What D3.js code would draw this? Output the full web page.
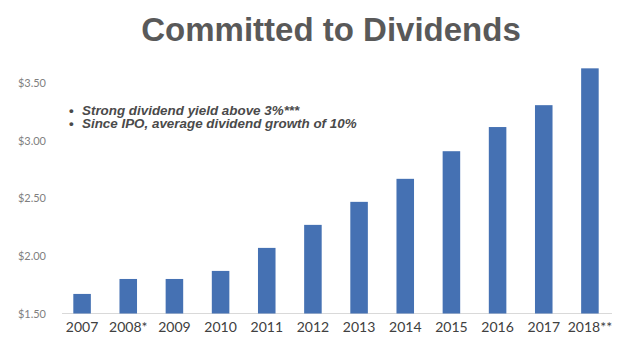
<!DOCTYPE html>
<html><head><meta charset="utf-8">
<script src="https://cdn.jsdelivr.net/npm/d3@7"></script>
<style>html,body{margin:0;padding:0;background:#fff;}</style>
</head><body>
<script>
const categories = ["2007","2008*","2009","2010","2011","2012","2013","2014","2015","2016","2017","2018**"];
const dividends = [1.67,1.80,1.80,1.87,2.07,2.27,2.47,2.67,2.91,3.12,3.31,3.63];
const yTicks = [1.5,2.0,2.5,3.0,3.5];
const titleText = "Committed to Dividends";
const bullets = ["Strong dividend yield above 3%***","Since IPO, average dividend growth of 10%"];

const W=640,H=345;
const svg=d3.select("body").append("svg").attr("width",W).attr("height",H);
svg.append("rect").attr("width",W).attr("height",H).attr("fill","#fff");

const x=d3.scaleBand().domain(categories).range([59,613]).paddingInner(0.62).paddingOuter(0.31);
const y=d3.scaleLinear().domain([1.5,3.5]).range([313.5,83.3]);

svg.append("text").attr("x",331).attr("y",41).attr("text-anchor","middle")
  .attr("font-family","Liberation Sans, Arial, sans-serif").attr("font-weight","bold")
  .attr("font-size",33).attr("fill","#595959").text(titleText);

// y axis labels
const yAxis=d3.axisLeft(y).tickValues(yTicks).tickSize(0).tickPadding(0).tickFormat(d=>"$"+d3.format(".2f")(d));
const ga=svg.append("g").attr("transform","translate(46,0)").call(yAxis);
ga.select(".domain").remove();
ga.selectAll("text").attr("font-family","Lato, Open Sans, sans-serif").attr("font-size",11).attr("fill","#7f7f7f");

// baseline
svg.append("line").attr("x1",62).attr("x2",612).attr("y1",y(1.5)).attr("y2",y(1.5)).attr("stroke","#d9d9d9").attr("stroke-width",1);

svg.selectAll("rect.bar").data(categories).enter().append("rect").attr("class","bar")
  .attr("x",d=>x(d)).attr("width",x.bandwidth())
  .attr("y",(d,i)=>y(dividends[i])).attr("height",(d,i)=>y(1.5)-y(dividends[i]))
  .attr("fill","#4571b3");

const xAxis=d3.axisBottom(x).tickSize(0).tickPadding(9);
const gx=svg.append("g").attr("transform",`translate(0,${y(1.5)})`).call(xAxis);
gx.select(".domain").remove();
gx.selectAll("text").attr("font-family","Lato, Open Sans, sans-serif").attr("font-size",14).attr("fill","#404040");

const bg=svg.append("g");
bullets.forEach((b,i)=>{
  bg.append("text").attr("x",69).attr("y",114.5+i*13.5).attr("font-family","Liberation Sans, Arial, sans-serif")
    .attr("font-size",13.4).attr("font-weight","bold").attr("fill","#4a4a4a").text("•");
  bg.append("text").attr("x",82).attr("y",114.5+i*13.5).attr("font-family","Liberation Sans, Arial, sans-serif")
    .attr("font-size",13.4).attr("font-weight","bold").attr("font-style","italic").attr("fill","#4a4a4a").text(b);
});
</script>
</body></html>
